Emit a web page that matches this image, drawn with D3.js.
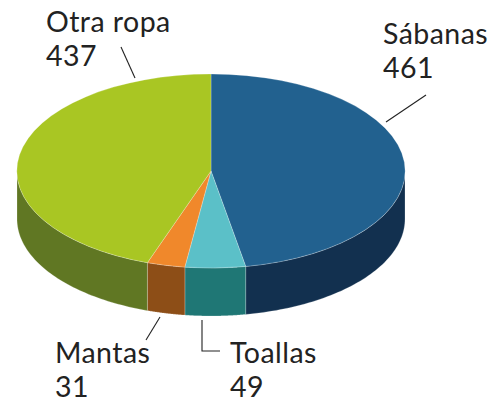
<!DOCTYPE html>
<html><head><meta charset="utf-8">
<script src="https://cdn.jsdelivr.net/npm/d3@7"></script>
<style>html,body{margin:0;background:#fff}svg{display:block}text{font-family:Lato,sans-serif;font-size:28.5px;letter-spacing:.45px;fill:#222}</style>
</head><body><svg id="c" width="504" height="402"></svg>
<script>
const categories=["Sábanas","Toallas","Mantas","Otra ropa"];
const values=[461,49,31,437];
const topColors=["#22618F","#5BC0C8","#F0882B","#A9C623"];
const sideColors=["#12304F","#1F7775","#8D4E17","#607723"];

const cx=211,cy=171,rx=194,ry=97,depth=48;
const svg=d3.select("#c");
const arcs=d3.pie().sort(null)(values);
const ex=d3.scaleLinear().domain([0,1]).range([0,rx]);
const ey=d3.scaleLinear().domain([0,1]).range([0,ry]);
const px=a=>cx+ex(Math.sin(a)),py=a=>cy-ey(Math.cos(a));

// walls
const line=d3.line();
arcs.forEach((d,i)=>{
  const a0=Math.max(d.startAngle,Math.PI/2),a1=Math.min(d.endAngle,Math.PI*1.5);
  if(a1<=a0)return;
  const n=60,as=d3.range(n+1).map(k=>a0+(a1-a0)*k/n);
  const pts=as.map(a=>[px(a),py(a)]).concat(as.slice().reverse().map(a=>[px(a),py(a)+depth]));
  svg.append("path").attr("d",line(pts)+"Z").attr("fill",sideColors[i])
    .attr("stroke","#fff").attr("stroke-opacity",.35).attr("stroke-width",.6);
});
// top
const arc=d3.arc().innerRadius(0).outerRadius(1);
svg.append("g").attr("transform",`translate(${cx},${cy}) scale(${rx},${ry})`)
  .selectAll("path").data(arcs).join("path").attr("d",arc)
  .attr("fill",(d,i)=>topColors[i]).attr("stroke","#fff").attr("stroke-opacity",.4)
  .attr("stroke-width",.6).attr("vector-effect","non-scaling-stroke");

// labels
const pos=[[383,44,[[426,95],[386,122]]],[230,363,[[202,320],[202,351],[220,351]]],[55,363,[[160,317],[146,340]]],[46,32,[[121,47],[135,78]]]];
categories.forEach((c,i)=>{
  const [x,y,l]=pos[i];
  svg.append("path").attr("d",line(l)).attr("fill","none").attr("stroke","#222").attr("stroke-width",1.1);
  svg.append("text").attr("x",x).attr("y",y).text(c);
  svg.append("text").attr("x",x).attr("y",y+33.5).text(values[i]);
});
</script></body></html>
